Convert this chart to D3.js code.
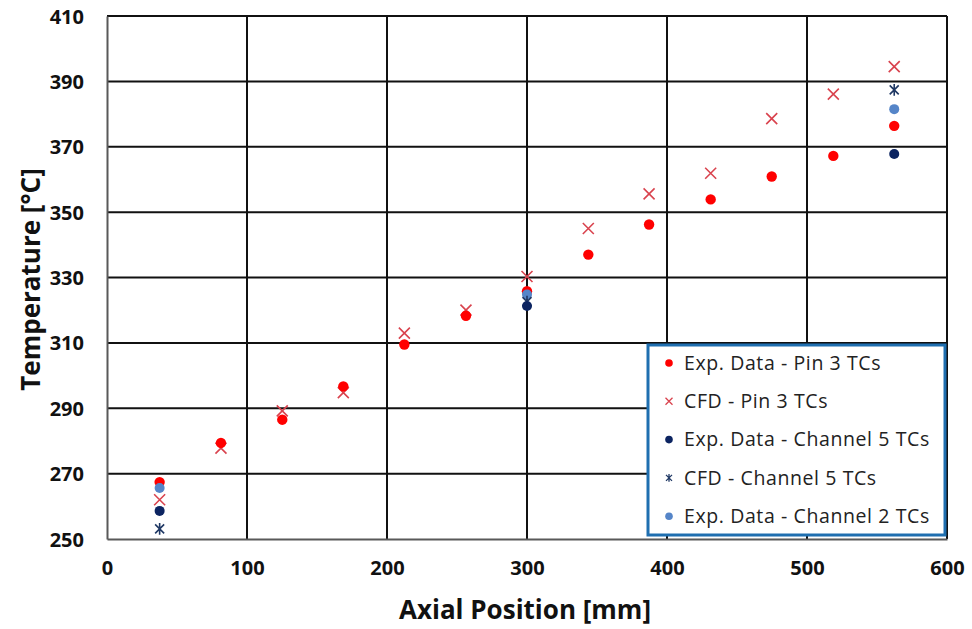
<!DOCTYPE html>
<html>
<head>
<meta charset="utf-8">
<script src="https://cdn.jsdelivr.net/npm/d3@7"></script>
<style>
  body { margin: 0; background: #fff; }
  svg { display: block; }
</style>
</head>
<body>
<div id="graph"></div>
<script>
// axial positions (mm)
var pinX = [37.6, 81.4, 125.2, 168.8, 212.4, 256.4, 300, 343.8, 387.2, 431.2, 474.8, 518.8, 562.3];
var pinExp = [267.4, 279.4, 286.5, 296.7, 309.5, 318.3, 325.8, 337.0, 346.2, 353.9, 360.9, 367.2, 376.4];
var pinCfd = [262.0, 277.8, 289.2, 294.8, 313.0, 320.0, 330.3, 345.0, 355.6, 361.9, 378.6, 386.1, 394.5];

var chanX = [37.6, 300, 562.3];
var ch5Exp = [258.6, 321.3, 367.8];
var ch5Cfd = [253.1, 322.6, 387.4];
var ch2Exp = [265.6, 324.8, 381.5];

var xTicks = [0, 100, 200, 300, 400, 500, 600];
var yTicks = [250, 270, 290, 310, 330, 350, 370, 390, 410];

var legendLabels = [
  "Exp. Data - Pin 3 TCs",
  "CFD - Pin 3 TCs",
  "Exp. Data - Channel 5 TCs",
  "CFD - Channel 5 TCs",
  "Exp. Data - Channel 2 TCs"
];

var svgWidth = 972, svgHeight = 629;
var margin = { top: 16, right: 25, bottom: 90, left: 107 };
var width = 840, height = 523;

var svg = d3.select("#graph").append("svg")
    .attr("width", svgWidth)
    .attr("height", svgHeight);

var g = svg.append("g")
    .attr("transform", "translate(" + margin.left + "," + margin.top + ")");

var x = d3.scaleLinear().domain([0, 600]).range([0, width]);
var y = d3.scaleLinear().domain([250, 410]).range([height, 0]);

var font = "'Open Sans', 'Liberation Sans', sans-serif";

// grid
g.append("g").selectAll("line").data(xTicks.slice(1)).enter().append("line")
    .attr("x1", function(d) { return x(d); }).attr("x2", function(d) { return x(d); })
    .attr("y1", 0).attr("y2", height)
    .attr("stroke", "#111").attr("stroke-width", 2);
g.append("g").selectAll("line").data(yTicks.slice(1)).enter().append("line")
    .attr("x1", 0).attr("x2", width)
    .attr("y1", function(d) { return y(d); }).attr("y2", function(d) { return y(d); })
    .attr("stroke", "#111").attr("stroke-width", 2);

// axes
var xAxis = g.append("g")
    .attr("transform", "translate(0," + height + ")")
    .call(d3.axisBottom(x).tickValues(xTicks).tickSize(0).tickPadding(22));
var yAxis = g.append("g")
    .call(d3.axisLeft(y).tickValues(yTicks).tickSize(0).tickPadding(23));
[xAxis, yAxis].forEach(function(a) {
  a.select(".domain").attr("stroke", "#595959").attr("stroke-width", 2);
  a.selectAll("text")
    .attr("fill", "#111")
    .style("font-family", font)
    .style("font-weight", "bold")
    .style("font-size", "20px");
});
yAxis.selectAll("text").attr("dy", "0.35em");

// axis titles
svg.append("text")
    .attr("x", margin.left + width / 2 - 2)
    .attr("y", 619)
    .attr("text-anchor", "middle")
    .style("font-family", font).style("font-weight", "bold").style("font-size", "26px")
    .attr("fill", "#111")
    .text("Axial Position [mm]");
svg.append("text")
    .attr("transform", "translate(40," + (margin.top + height / 2 + 2) + ") rotate(-90)")
    .attr("text-anchor", "middle")
    .style("font-family", font).style("font-weight", "bold").style("font-size", "26px")
    .attr("fill", "#111")
    .text("Temperature [°C]");

// marker helpers
function dots(parent, xs, ys, r, color) {
  parent.append("g").selectAll("circle").data(xs).enter().append("circle")
      .attr("cx", function(d) { return x(d); })
      .attr("cy", function(d, i) { return y(ys[i]); })
      .attr("r", r)
      .attr("fill", color);
}
function crossPath(s) {
  return "M" + (-s) + "," + (-s) + "L" + s + "," + s + "M" + (-s) + "," + s + "L" + s + "," + (-s);
}
function starPath(s) {
  return crossPath(s) + "M0," + (-s * 1.3) + "L0," + (s * 1.3);
}
function marks(parent, xs, ys, path, color, w) {
  parent.append("g").selectAll("path").data(xs).enter().append("path")
      .attr("transform", function(d, i) { return "translate(" + x(d) + "," + y(ys[i]) + ")"; })
      .attr("d", path)
      .attr("fill", "none")
      .attr("stroke", color)
      .attr("stroke-width", w);
}

var colors = ["#ff0000", "#d9434e", "#0c2461", "#1f3864", "#5585c8"];

marks(g, pinX, pinCfd, crossPath(5.5), colors[1], 1.6);
dots(g, pinX, pinExp, 5.2, colors[0]);
dots(g, chanX, ch2Exp, 5, colors[4]);
marks(g, chanX, ch5Cfd, starPath(4.5), colors[3], 1.6);
dots(g, chanX, ch5Exp, 5, colors[2]);

// legend
var lg = svg.append("g").attr("transform", "translate(648,345)");
lg.append("rect")
    .attr("width", 297).attr("height", 190)
    .attr("fill", "#fff")
    .attr("stroke", "#1f6fb0").attr("stroke-width", 3);
var items = lg.selectAll("g.item").data(legendLabels).enter().append("g")
    .attr("class", "item")
    .attr("transform", function(d, i) { return "translate(21," + (18 + i * 38.3) + ")"; });
items.each(function(d, i) {
  var it = d3.select(this);
  if (i === 1) it.append("path").attr("d", crossPath(3.5)).attr("fill", "none").attr("stroke", colors[1]).attr("stroke-width", 1.3);
  else if (i === 3) it.append("path").attr("d", starPath(3)).attr("fill", "none").attr("stroke", colors[3]).attr("stroke-width", 1.3);
  else it.append("circle").attr("r", 3.8).attr("fill", colors[i]);
});
items.append("text")
    .attr("x", 15)
    .attr("dy", "0.35em")
    .style("font-family", font).style("font-size", "19.5px")
    .style("letter-spacing", "0.6px")
    .attr("fill", "#222")
    .text(function(d) { return d; });
</script>
</body>
</html>
